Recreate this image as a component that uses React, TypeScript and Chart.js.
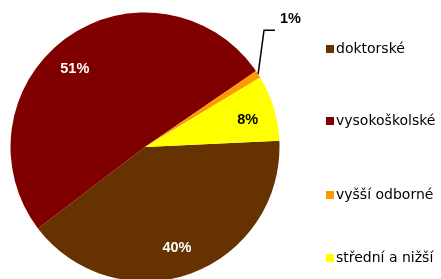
import React, { useEffect, useRef } from "react";
import { Chart, registerables } from "chart.js";

Chart.register(...registerables);

const categories = ["doktorské", "vysokoškolské", "vyšší odborné", "střední a nižší"];
const shares = [40.4, 50.8, 0.9, 7.9];
const sliceColors = ["#663300", "#800000", "#FF9900", "#FFFF00"];

// label placement per slice: radius fraction, angle shift (deg), text colour
const labelStyle = [
  { dist: 0.79, shift: 2.5, color: "#FFFFFF" },
  { dist: 0.78, shift: -6.2, color: "#FFFFFF" },
  { dist: 1.24, shift: -11.7, color: "#000000", outside: true },
  { dist: 0.79, shift: 2.2, color: "#000000" },
];
const legendRows = [49, 121, 195, 258];

const overlayPlugin = {
  id: "overlay",
  afterDraw(chart: any) {
    const ctx = chart.ctx as CanvasRenderingContext2D;
    const meta = chart.getDatasetMeta(0);
    const total = shares.reduce((a, b) => a + b, 0);
    ctx.save();
    ctx.font = "bold 14.5px 'Liberation Sans', Arial, sans-serif";
    ctx.textBaseline = "middle";
    meta.data.forEach((arc: any, i: number) => {
      const p = arc.getProps(["x", "y", "startAngle", "endAngle", "outerRadius"], true);
      const st = labelStyle[i];
      const mid = (p.startAngle + p.endAngle) / 2;
      const text = Math.round((shares[i] / total) * 100) + "%";
      ctx.fillStyle = st.color;
      if (st.outside) {
        const ex = p.x + Math.cos(mid) * p.outerRadius;
        const ey = p.y + Math.sin(mid) * p.outerRadius;
        const a = mid + (st.shift * Math.PI) / 180;
        const kx = p.x + Math.cos(a) * p.outerRadius * st.dist;
        const ky = p.y + Math.sin(a) * p.outerRadius * st.dist;
        ctx.strokeStyle = "#000000";
        ctx.lineWidth = 1.5;
        ctx.beginPath();
        ctx.moveTo(ex, ey);
        ctx.lineTo(kx, ky);
        ctx.lineTo(kx + 11, ky);
        ctx.stroke();
        ctx.textAlign = "left";
        ctx.fillText(text, kx + 16, ky - 11);
      } else {
        const a = mid + (st.shift * Math.PI) / 180;
        const tx = p.x + Math.cos(a) * p.outerRadius * st.dist;
        const ty = p.y + Math.sin(a) * p.outerRadius * st.dist;
        ctx.textAlign = "center";
        ctx.fillText(text, tx, ty);
      }
    });
    // legend
    ctx.font = "14px 'DejaVu Sans', sans-serif";
    ctx.textAlign = "left";
    ctx.textBaseline = "middle";
    categories.forEach((c, i) => {
      const y = legendRows[i];
      ctx.fillStyle = sliceColors[i];
      ctx.fillRect(326, y - 4, 8, 8);
      ctx.fillStyle = "#000000";
      ctx.fillText(c, 336, y + 0.5);
    });
    ctx.restore();
  },
};

export default function App() {
  const ref = useRef<HTMLCanvasElement>(null);
  useEffect(() => {
    if (!ref.current) return;
    const chart = new Chart(ref.current, {
      type: "pie",
      data: {
        labels: categories,
        datasets: [
          {
            data: shares,
            backgroundColor: sliceColors,
            borderWidth: 0,
          },
        ],
      },
      options: {
        responsive: false,
        animation: false,
        rotation: 87.3,
        layout: { padding: { left: 10, right: 161, top: 12.5, bottom: 12.5 } },
        plugins: {
          legend: { display: false },
          tooltip: { enabled: false },
        },
      },
      plugins: [overlayPlugin],
    });
    return () => chart.destroy();
  }, []);
  return (
    <div style={{ position: "fixed", left: 0, top: 0, width: 441, height: 294, background: "#fff" }}>
      <canvas ref={ref} width={441} height={294} style={{ width: 441, height: 294 }} />
    </div>
  );
}
